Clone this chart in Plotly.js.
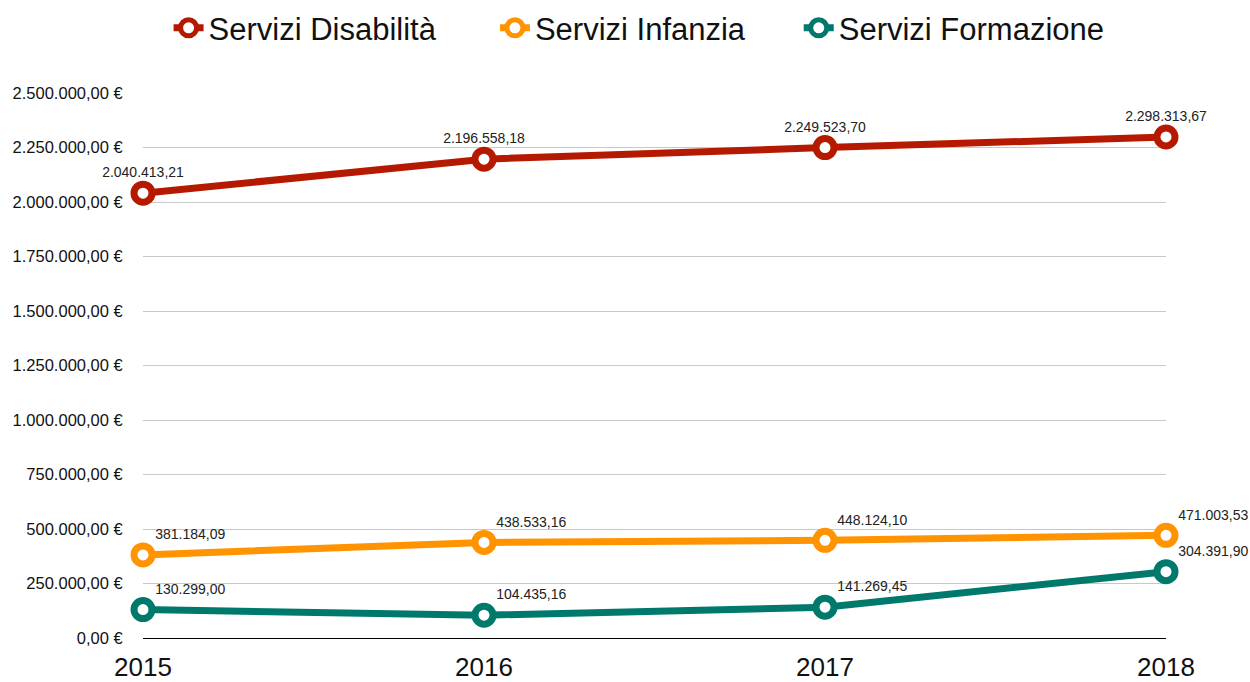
<!DOCTYPE html>
<html>
<head>
<meta charset="utf-8">
<script src="https://cdn.plot.ly/plotly-3.0.1.min.js"></script>
<style>
  body { margin: 0; background: #fff; }
  #chart { width: 1250px; height: 682px; }
</style>
</head>
<body>
<div id="chart"></div>
<script>
// anni e valori (euro)
var years = [2015, 2016, 2017, 2018];
var disabilita = [2040413.21, 2196558.18, 2249523.70, 2298313.67];
var infanzia = [381184.09, 438533.16, 448124.10, 471003.53];
var formazione = [130299.00, 104435.16, 141269.45, 304391.90];

var seriesNames = ["Servizi Disabilità", "Servizi Infanzia", "Servizi Formazione"];
var seriesColors = ["#B51A00", "#FF9300", "#00796D"];
var labelPos = ["top center", "top right", "top right"];
var legendIds = ["legend", "legend2", "legend3"];
var legendX = [0.025, 0.344, 0.641];

function makeTrace(y, i) {
  return {
    x: years,
    y: y,
    name: seriesNames[i],
    legend: legendIds[i],
    type: "scatter",
    mode: "lines+markers+text",
    line: { color: seriesColors[i], width: 7 },
    marker: { size: 18, color: "#fff", line: { color: seriesColors[i], width: 7 } },
    texttemplate: "%{y:,.2f}",
    textposition: labelPos[i],
    textfont: { size: 14, color: "#222" },
    cliponaxis: false
  };
}

var data = [makeTrace(disabilita, 0), makeTrace(infanzia, 1), makeTrace(formazione, 2)];

var layout = {
  width: 1250,
  height: 682,
  separators: ",.",
  font: { family: "Liberation Sans, Arial, sans-serif", color: "#111" },
  margin: { l: 143, r: 84, t: 93, b: 44, autoexpand: false },
  showlegend: true,
  xaxis: {
    range: [2015, 2018],
    tickvals: years,
    ticktext: years.map(String),
    showgrid: false,
    zeroline: false,
    tickfont: { size: 26 },
    ticks: "outside", ticklen: 6, tickcolor: "rgba(0,0,0,0)"
  },
  yaxis: {
    range: [0, 2500000],
    dtick: 250000,
    tickformat: ",.2f",
    ticksuffix: " €",
    tickfont: { size: 16.5 },
    gridcolor: "#c8c8c8",
    gridwidth: 1,
    zeroline: true,
    zerolinecolor: "#000",
    zerolinewidth: 1,
    ticks: "outside", ticklen: 16, tickcolor: "rgba(0,0,0,0)"
  },
  plot_bgcolor: "#fff",
  paper_bgcolor: "#fff"
};

legendIds.forEach(function (id, i) {
  layout[id] = {
    orientation: "h",
    x: legendX[i], xanchor: "left",
    y: 1.119, yanchor: "middle",
    font: { size: 31 },
    bgcolor: "rgba(0,0,0,0)"
  };
});

Plotly.newPlot("chart", data, layout, { displayModeBar: false });
</script>
</body>
</html>
